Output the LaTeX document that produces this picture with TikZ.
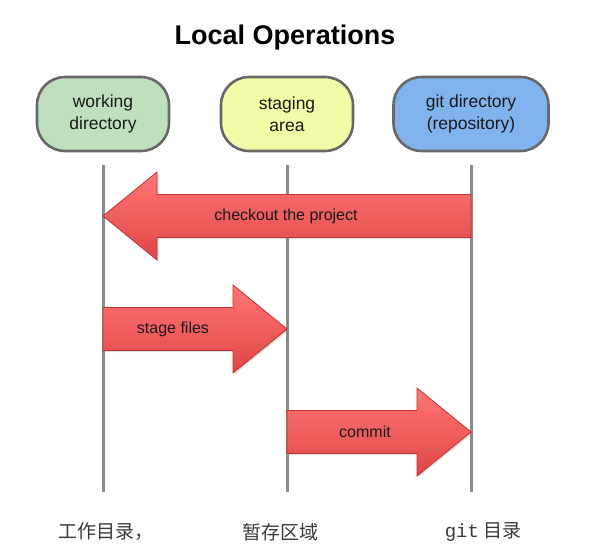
\documentclass[tikz,border=0pt]{standalone}
\usepackage{fontspec}
\setmainfont{Liberation Sans}
\newfontfamily\cjk{Noto Sans CJK SC}
\newfontfamily\latinmono{Liberation Mono}
\usepackage{tikz}
\usetikzlibrary{positioning,calc,shadows}
\definecolor{WorkGreen}{HTML}{BEE0BC}
\definecolor{StageYellow}{HTML}{F2FAA6}
\definecolor{GitBlue}{HTML}{80B3EE}
\definecolor{BoxBorder}{HTML}{686868}
\definecolor{LineGray}{HTML}{8A8A8A}
\definecolor{ArrowTop}{HTML}{FF7676}
\definecolor{ArrowBottom}{HTML}{E04646}
\definecolor{ArrowEdge}{HTML}{C23232}
\definecolor{TextDark}{HTML}{1A1A1A}
\definecolor{CaptionGray}{HTML}{3A3A3A}

% big block arrow from #1 (tail) to #2 (tip)
\newcommand{\blockarrow}[2]{%
  \coordinate (#2-base) at ($(#2)!54pt!(#1)$);
  \draw[bigarrow] ($(#1)+(0,-21.5)$) -- ($(#2-base)+(0,-21.5)$)
    -- ($(#2-base)+(0,-44)$) -- (#2) -- ($(#2-base)+(0,44)$)
    -- ($(#2-base)+(0,21.5)$) -- ($(#1)+(0,21.5)$) -- cycle;}

\begin{document}
\begin{tikzpicture}[x=1pt,y=-1pt,
          area/.style={draw=BoxBorder, line width=2.6pt, rounded corners=28pt,
            minimum height=74pt, align=center, text=TextDark,
            font=\fontsize{17.5}{22.5}\selectfont},
          lifeline/.style={draw=LineGray, line width=3pt},
          bigarrow/.style={draw=ArrowEdge, line width=0.8pt,
            top color=ArrowTop, bottom color=ArrowBottom,
            drop shadow={opacity=0.25, shadow xshift=1.5pt, shadow yshift=-1.5pt}},
          arrowtext/.style={font=\fontsize{16}{19}\selectfont, text=TextDark},
          cntext/.style={font=\cjk\fontsize{19}{22}\selectfont, text=CaptionGray}]
        \path[fill=white, use as bounding box] (0,0) rectangle (601,549);
        \node[font=\fontsize{27}{30}\selectfont\bfseries] (title) at (285,38)
        {Local Operations};
        % the three areas
        \node[area, fill=WorkGreen, minimum width=132pt] (wd) at (103,114)
        {working\\directory};
        \node[area, fill=StageYellow, minimum width=132pt] (sa) at (287,114)
        {staging\\area};
        \node[area, fill=GitBlue, minimum width=155pt] (gd) at (471,114)
        {git directory\\(repository)};
        % lifelines
        \coordinate (wd-top) at (103,165); \coordinate (wd-bot) at (103,492);
        \coordinate (sa-top) at (287,165); \coordinate (sa-bot) at (287,492);
        \coordinate (gd-top) at (471,165); \coordinate (gd-bot) at (471,492);
        \draw[lifeline] (wd-top) -- (wd-bot);
        \draw[lifeline] (sa-top) -- (sa-bot);
        \draw[lifeline] (gd-top) -- (gd-bot);
        % operations
        \coordinate (co-tail) at (471,216); \coordinate (co-tip) at (103,216);
        \coordinate (st-tail) at (103,329); \coordinate (st-tip) at (287,329);
        \coordinate (cm-tail) at (287,432); \coordinate (cm-tip) at (471,432);
        \blockarrow{co-tail}{co-tip}
        \blockarrow{st-tail}{st-tip}
        \blockarrow{cm-tail}{cm-tip}
        \node[arrowtext] (checkout) at (286,216) {checkout the project};
        \node[arrowtext] (stage) at (173,329) {stage files};
        \node[arrowtext] (commit) at (365,432) {commit};
        % captions
        \node[cntext] (wd-cn) at (106,532) {工作目录，};
        \node[cntext] (sa-cn) at (280,532) {暂存区域};
        \node[cntext] (gd-cn) at (483,532) {{\latinmono git} 目录};
      \end{tikzpicture}
\end{document}
